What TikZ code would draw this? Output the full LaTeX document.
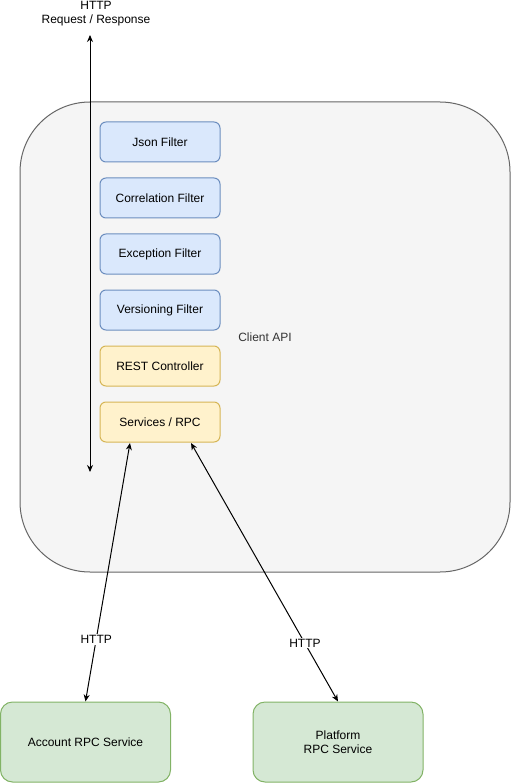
\documentclass[tikz,border=0pt]{standalone}
\usepackage{fontspec}
\setmainfont{Liberation Sans}
\usetikzlibrary{arrows.meta}
\definecolor{apifill}{HTML}{F5F5F5}
\definecolor{apiline}{HTML}{666666}
\definecolor{apitext}{HTML}{333333}
\definecolor{filterfill}{HTML}{DAE8FC}
\definecolor{filterline}{HTML}{6C8EBF}
\definecolor{ctrlfill}{HTML}{FFF2CC}
\definecolor{ctrlline}{HTML}{D6B656}
\definecolor{rpcfill}{HTML}{D5E8D4}
\definecolor{rpcline}{HTML}{82B366}

\begin{document}
\begin{tikzpicture}[x=1pt,y=-1pt,font=\fontsize{12}{14}\selectfont,
  apibox/.style={draw=apiline,fill=apifill,text=apitext,rounded corners=70pt,minimum width=490pt,minimum height=470pt,line width=1pt},
  filterbox/.style={draw=filterline,fill=filterfill,rounded corners=6pt,minimum width=120pt,minimum height=40pt,line width=1pt},
  ctrlbox/.style={draw=ctrlline,fill=ctrlfill,rounded corners=6pt,minimum width=120pt,minimum height=40pt,line width=1pt},
  rpcbox/.style={draw=rpcline,fill=rpcfill,rounded corners=12pt,minimum width=170pt,minimum height=80pt,line width=1pt,align=center},
  link/.style={{Stealth[length=7pt,width=6pt]}-{Stealth[length=7pt,width=6pt]},line width=1pt},
  httplabel/.style={fill=white,inner sep=1pt}]
\useasboundingbox (0,0) rectangle (511,783);

% client api container
\node[apibox] (api) at (265,337) {Client API};

% filter chain
\node[filterbox] (json) at (160,142) {Json Filter};
\node[filterbox] (corr) at (160,198) {Correlation Filter};
\node[filterbox] (exc) at (160,254) {Exception Filter};
\node[filterbox] (ver) at (160,310) {Versioning Filter};
\node[ctrlbox] (rest) at (160,366) {REST Controller};
\node[ctrlbox] (svc) at (160,422) {Services / RPC};

% rpc services
\node[rpcbox] (acc) at (85.5,742) {Account RPC Service};
\node[rpcbox] (plat) at (338,742) {Platform\\RPC Service};

% request / response
\node[align=center,inner sep=0pt] (req) at (96,14) {HTTP\\Request / Response};
\coordinate (vtop) at (90,35);
\coordinate (vbot) at (90,472);
\draw[link] (vtop) -- (vbot);

% calls out of services
\coordinate (svcA) at (130,443);
\coordinate (svcP) at (191,443);
\draw[link] (svcA) -- (acc.north) node[pos=0.76,httplabel] (httpA) {HTTP};
\draw[link] (svcP) -- (plat.north) node[pos=0.775,httplabel] (httpP) {HTTP};
\end{tikzpicture}
\end{document}
